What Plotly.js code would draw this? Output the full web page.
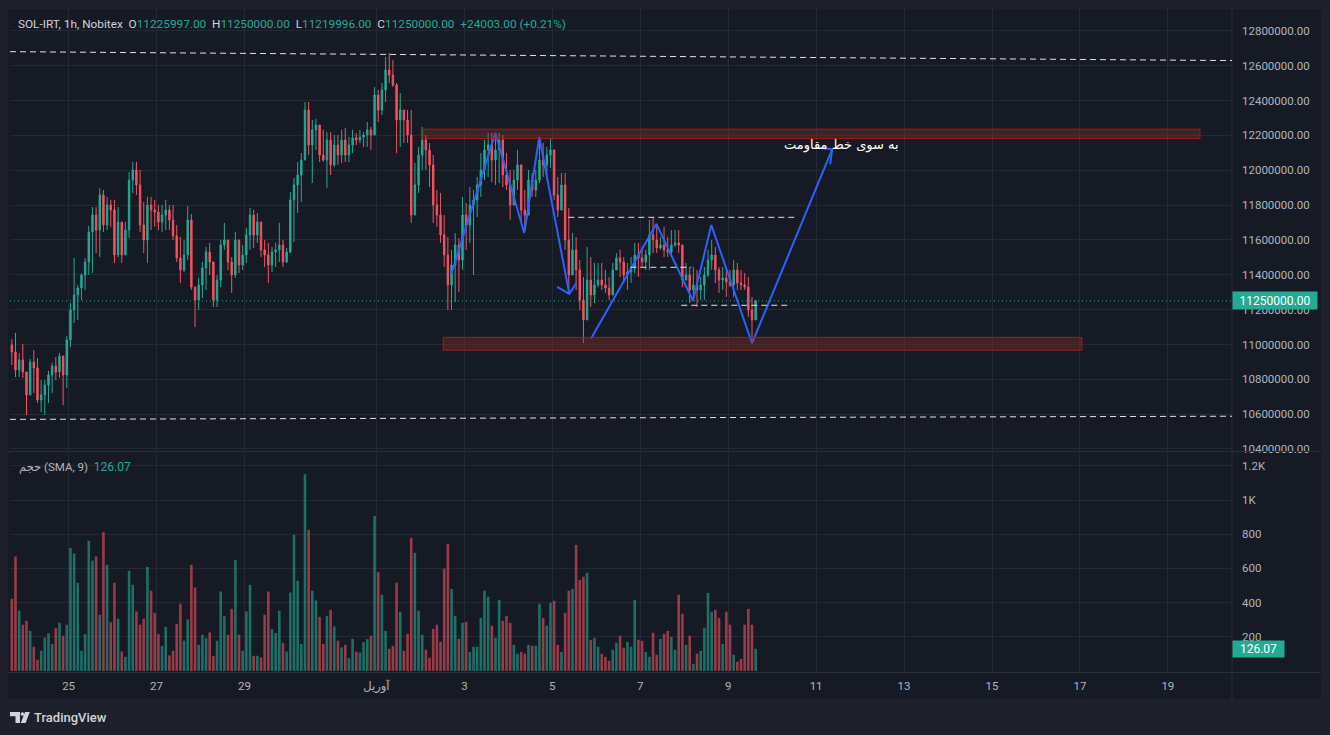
<!DOCTYPE html>
<html>
<head>
<meta charset="utf-8">
<script src="https://cdn.plot.ly/plotly-3.0.1.min.js"></script>
<style>
html,body{margin:0;padding:0;background:#1e212b;}
#chart{width:1330px;height:735px;}
</style>
</head>
<body>
<div id="chart"></div>
<script>
// ---------------- DATA (prices in thousand IRT, 2-hour bars, SOL-IRT Nobitex) ----------------
const firstBarTime = '2025-03-23 16:00';
const firstOpen = 10997;
const highs = [
 11031,11066,10951,11003,10842,10917,10968,10922,10796,10796,
 10848,10894,10928,10951,10934,11049,11238,11497,11342,11410,
 11497,11680,11789,11789,11898,11887,11847,11830,11830,11789,
 11675,11703,11990,12048,12048,12002,11818,11847,11847,11830,
 11801,11801,11830,11801,11801,11686,11617,11600,11795,11749,
 11330,11382,11474,11560,11583,11474,11399,11600,11698,11600,
 11502,11646,11571,11571,11669,11784,11772,11755,11698,11600,
 11583,11560,11583,11698,11600,11554,11876,11956,12048,12099,
 12392,12392,12289,12295,12249,12232,12220,12220,12203,12203,
 12232,12243,12191,12232,12214,12232,12220,12277,12249,12478,
 12461,12501,12651,12674,12633,12501,12444,12346,12346,12346,
 12042,12134,12249,12203,12157,12088,11887,11870,11743,11617,
 11543,11640,11611,11847,11812,11904,11887,11962,12099,12174,
 12214,12214,12214,12214,12203,12099,12002,12002,12117,11962,
 11887,12002,11985,12002,12191,12157,12134,12186,12077,11962,
 11985,11985,11784,11640,11617,11485,11387,11560,11502,11468,
 11468,11468,11428,11387,11468,11525,11543,11502,11468,11502,
 11583,11583,11560,11543,11715,11732,11675,11617,11675,11617,
 11657,11657,11657,11543,11468,11445,11445,11428,11387,11445,
 11543,11600,11560,11445,11445,11445,11428,11485,11468,11428,
 11410,11387,11273,11255
];
const lows = [
 10882,10813,10813,10808,10595,10710,10721,10664,10612,10595,
 10664,10721,10796,10808,10652,10750,10985,11123,11141,11255,
 11313,11399,11410,11525,11502,11646,11657,11675,11468,11502,
 11468,11514,11611,11870,11858,11646,11525,11468,11657,11675,
 11657,11646,11657,11657,11600,11474,11353,11416,11485,11313,
 11100,11198,11267,11313,11399,11215,11215,11330,11543,11428,
 11296,11382,11410,11428,11468,11543,11554,11583,11502,11445,
 11353,11416,11445,11474,11445,11468,11525,11588,11755,11818,
 12077,12088,11927,12117,12048,12048,11898,11973,12019,12031,
 12042,12048,12048,12099,12145,12157,12134,12134,12117,12203,
 12277,12318,12392,12501,12478,12099,12134,12157,12157,11698,
 11789,11870,12002,12002,11904,11698,11675,11583,11445,11198,
 11198,11244,11301,11428,11543,11583,11399,11732,11847,11944,
 11962,11933,11916,11927,11904,11887,11715,11830,11887,11698,
 11657,11772,11847,11847,11927,11962,11944,12013,11830,11732,
 11772,11543,11296,11502,11313,11198,11008,11215,11215,11238,
 11330,11313,11296,11255,11330,11428,11387,11353,11313,11353,
 11410,11387,11445,11428,11428,11525,11525,11543,11502,11502,
 11502,11560,11525,11330,11370,11238,11273,11215,11255,11255,
 11387,11428,11353,11296,11313,11273,11330,11273,11313,11313,
 11313,11158,11008,11181
];
const closes = [
 10957,10853,10911,10842,10710,10899,10865,10681,10710,10767,
 10825,10876,10842,10934,10825,11026,11198,11284,11324,11399,
 11474,11646,11743,11657,11858,11686,11801,11772,11514,11703,
 11514,11657,11944,12002,11916,11686,11600,11801,11772,11761,
 11703,11743,11772,11715,11623,11497,11428,11514,11715,11330,
 11255,11342,11439,11531,11474,11255,11370,11571,11600,11474,
 11399,11600,11456,11514,11629,11743,11629,11703,11543,11514,
 11456,11531,11543,11571,11474,11531,11830,11916,11973,12059,
 12346,12145,12232,12260,12088,12059,12174,12031,12145,12088,
 12174,12088,12145,12186,12174,12191,12203,12232,12203,12432,
 12346,12461,12576,12547,12490,12289,12346,12289,12203,11743,
 11916,12088,12174,12117,12031,11801,11743,11629,11514,11342,
 11456,11571,11485,11743,11686,11801,11830,11916,12002,12117,
 12145,12059,12117,12174,11973,11916,11801,11944,12031,11772,
 11743,11944,11887,11944,12059,12031,12088,12117,11858,11772,
 11916,11600,11399,11543,11428,11255,11141,11370,11284,11342,
 11370,11342,11324,11284,11428,11497,11474,11399,11416,11439,
 11514,11497,11474,11514,11629,11600,11554,11571,11543,11531,
 11571,11583,11571,11370,11399,11313,11342,11313,11342,11399,
 11485,11514,11428,11370,11382,11359,11342,11428,11353,11342,
 11330,11198,11141,11250
];
const volumes = [
 422,670,352,270,293,234,141,65,117,195,
 220,156,250,281,205,270,719,687,516,117,
 215,762,645,670,328,812,621,285,516,305,
 113,82,586,504,348,270,305,609,469,340,
 215,146,258,90,117,275,393,176,301,621,
 488,152,211,191,225,86,176,465,320,211,
 363,650,211,117,348,504,88,88,78,328,
 465,244,221,352,162,113,459,797,527,158,
 1152,826,469,412,316,158,322,357,260,176,
 137,152,74,187,113,107,168,186,205,908,
 578,445,234,129,146,516,346,117,217,779,
 691,352,211,123,76,246,270,170,598,744,
 480,322,187,281,287,111,141,141,310,469,
 434,264,193,416,293,322,281,152,100,111,
 100,152,146,146,393,310,264,398,410,152,
 111,340,469,480,738,533,551,574,180,193,
 141,100,82,59,123,164,205,135,170,141,
 416,182,176,111,82,223,94,187,217,234,
 199,123,445,334,152,205,41,100,117,252,
 457,346,357,310,158,346,270,94,53,70,
 270,363,270,129
];
const PRICE_UNIT = 1000;

// header / indicator texts
const symbolText = 'SOL-IRT, 1h, Nobitex';
const lastOpen = '11225997.00', lastHigh = '11250000.00', lastLow = '11219996.00', lastClose = '11250000.00';
const lastChange = '+24003.00 (+0.21%)';
const lastPrice = 11250000;
const volLabel = 'حجم (SMA, 9)';
const volSma = 126.07;

// x axis ticks
const xTickDates = ['2025-03-25','2025-03-27','2025-03-29','2025-04-01','2025-04-03','2025-04-05','2025-04-07','2025-04-09','2025-04-11','2025-04-13','2025-04-15','2025-04-17','2025-04-19'];
const xTickText  = ['25','27','29','آوریل','3','5','7','9','11','13','15','17','19'];
const volTickVals = [200,400,600,800,1000,1200];
const volTickText = ['200','400','600','800','1K','1.2K'];

// drawings (time, thousand IRT)
const resistZone = {t0:'2025-04-02 00:30', t1:'2025-04-19 17:30', p0:12182, p1:12236};
const supportZone = {t0:'2025-04-02 12:30', t1:'2025-04-17 01:06', p0:10967, p1:11041};
const topTrend = {t0:'2025-03-23 16:00', p0:12681, t1:'2025-04-20 11:00', p1:12630};
const bottomTrend = {t0:'2025-03-23 16:00', p0:10570, t1:'2025-04-20 11:00', p1:10588};
const dashLevels = [
  {t0:'2025-04-05 08:45', t1:'2025-04-10 13:06', p:11730},
  {t0:'2025-04-06 18:36', t1:'2025-04-08 03:50', p:11443},
  {t0:'2025-04-07 22:24', t1:'2025-04-10 08:12', p:11225}
];
const zigA_t = ['2025-04-02 16:55','2025-04-03 16:55','2025-04-04 08:42','2025-04-04 16:55','2025-04-05 09:18'];
const zigA_p = [11405,12214,11640,12191,11290];
const headA_t = ['2025-04-05 02:42','2025-04-05 09:18','2025-04-05 13:06'];
const headA_p = [11330,11290,11353];
const zigB_t = ['2025-04-05 21:06','2025-04-07 08:48','2025-04-08 04:48','2025-04-08 14:48','2025-04-09 13:00','2025-04-11 08:48'];
const zigB_p = [11033,11692,11251,11686,11007,12121];
const headB_t = ['2025-04-11 01:18','2025-04-11 08:48','2025-04-11 07:42'];
const headB_p = [12130,12121,12036];
const noteText = 'به سوی خط مقاومت';
const noteAt = {t:'2025-04-11 13:40', p:12145};

// ---------------- BUILD ----------------
const UP = '#22ab94', DN = '#f7525f';
const TXT = '#b2b5be', GRID = '#252935';
const FONT = 'Roboto, "DejaVu Sans", sans-serif';

function fmt(ms){
  const d = new Date(ms); const p = n => String(n).padStart(2,'0');
  return d.getUTCFullYear()+'-'+p(d.getUTCMonth()+1)+'-'+p(d.getUTCDate())+' '+p(d.getUTCHours())+':'+p(d.getUTCMinutes());
}
const t0ms = Date.parse(firstBarTime.replace(' ','T')+':00Z');
const times = closes.map((_,i) => fmt(t0ms + (2*i+1)*3600e3));
const opens = closes.map((c,i) => i === 0 ? firstOpen : closes[i-1]);
const hi = highs.map((h,i) => Math.max(h, opens[i], closes[i]));
const lo = lows.map((l,i) => Math.min(l, opens[i], closes[i]));
const k = v => v * PRICE_UNIT;
const volColors = closes.map((c,i) => c >= opens[i] ? 'rgba(34,171,148,0.6)' : 'rgba(247,82,95,0.6)');

const PL = 10, PR = 1232, PT = 9, PB = 672;
const px = x => (x - PL) / (PR - PL);
const py = y => (PB - y) / (PB - PT);

const traces = [
  {type:'candlestick', x:times, open:opens.map(k), high:hi.map(k), low:lo.map(k), close:closes.map(k),
   xaxis:'x', yaxis:'y', whiskerwidth:0, hoverinfo:'skip',
   increasing:{line:{color:UP,width:1}, fillcolor:UP},
   decreasing:{line:{color:DN,width:1}, fillcolor:DN}},
  {type:'bar', x:times, y:volumes, xaxis:'x', yaxis:'y2', hoverinfo:'skip',
   marker:{color:volColors, line:{width:0}}},
  {type:'scatter', mode:'lines', x:zigA_t, y:zigA_p.map(k), xaxis:'x', yaxis:'y', hoverinfo:'skip', line:{color:'#2962ff', width:2}},
  {type:'scatter', mode:'lines', x:headA_t, y:headA_p.map(k), xaxis:'x', yaxis:'y', hoverinfo:'skip', line:{color:'#2962ff', width:2}},
  {type:'scatter', mode:'lines', x:zigB_t, y:zigB_p.map(k), xaxis:'x', yaxis:'y', hoverinfo:'skip', line:{color:'#2962ff', width:2}},
  {type:'scatter', mode:'lines', x:headB_t, y:headB_p.map(k), xaxis:'x', yaxis:'y', hoverinfo:'skip', line:{color:'#2962ff', width:2}}
];

function pathPx(pts){
  return pts.map((p,i) => (i ? 'L' : 'M') + px(p[0]).toFixed(5) + ',' + py(p[1]).toFixed(5)).join(' ') + ' Z';
}

const ZONE_FILL = 'rgba(140,48,40,0.38)', ZONE_LINE = 'rgba(165,30,30,0.95)';
const shapes = [
  // chart background & frame
  {type:'rect', xref:'paper', yref:'paper', x0:px(8), x1:px(1321), y0:py(699), y1:py(9), fillcolor:'#161a25', line:{width:0}, layer:'below'},
  {type:'line', xref:'paper', yref:'paper', x0:px(8), x1:px(1321), y0:py(451.5), y1:py(451.5), line:{color:'#2a2e39', width:1}},
  {type:'line', xref:'paper', yref:'paper', x0:px(8), x1:px(1321), y0:py(672.5), y1:py(672.5), line:{color:'#2a2e39', width:1}},
  {type:'line', xref:'paper', yref:'paper', x0:1, x1:1, y0:py(699), y1:py(9), line:{color:'#2a2e39', width:1}},
  // price line
  {type:'line', xref:'paper', yref:'y', x0:0, x1:1, y0:lastPrice, y1:lastPrice, line:{color:UP, width:1, dash:'1px,3px'}},
  // zones
  {type:'rect', xref:'x', yref:'y', x0:resistZone.t0, x1:resistZone.t1, y0:k(resistZone.p0), y1:k(resistZone.p1),
   fillcolor:ZONE_FILL, line:{color:ZONE_LINE, width:1}},
  {type:'rect', xref:'x', yref:'y', x0:supportZone.t0, x1:supportZone.t1, y0:k(supportZone.p0), y1:k(supportZone.p1),
   fillcolor:ZONE_FILL, line:{color:ZONE_LINE, width:1}},
  // trend lines
  {type:'line', xref:'x', yref:'y', x0:topTrend.t0, x1:topTrend.t1, y0:k(topTrend.p0), y1:k(topTrend.p1), line:{color:'#e0e3eb', width:1, dash:'6px,4px'}},
  {type:'line', xref:'x', yref:'y', x0:bottomTrend.t0, x1:bottomTrend.t1, y0:k(bottomTrend.p0), y1:k(bottomTrend.p1), line:{color:'#e0e3eb', width:1, dash:'6px,4px'}},
  // TradingView logo
  {type:'path', xref:'paper', yref:'paper', path:pathPx([[10,712],[20,712],[20,723],[15.5,723],[15.5,716.3],[10,716.3]]), fillcolor:'#d1d4dc', line:{width:0}},
  {type:'circle', xref:'paper', yref:'paper', x0:px(20.6), x1:px(24.2), y0:py(715.9), y1:py(712.3), fillcolor:'#d1d4dc', line:{width:0}},
  {type:'path', xref:'paper', yref:'paper', path:pathPx([[25,712],[29.8,712],[25.6,723],[20.8,723]]), fillcolor:'#d1d4dc', line:{width:0}}
];
dashLevels.forEach(d => shapes.push({type:'line', xref:'x', yref:'y', x0:d.t0, x1:d.t1, y0:k(d.p), y1:k(d.p), line:{color:'#e0e3eb', width:1, dash:'6px,4px'}}));

const teal = s => '<span style="color:'+UP+'">'+s+'</span>';
const sp = '\u00a0\u00a0';
const annotations = [
  {xref:'paper', yref:'paper', x:px(16), y:py(24), xanchor:'left', yanchor:'middle', showarrow:false,
   font:{family:FONT, size:11.8, color:'#d1d4dc'},
   text: symbolText + sp + 'O' + teal(lastOpen) + sp + 'H' + teal(lastHigh) + sp + 'L' + teal(lastLow) + sp + 'C' + teal(lastClose) + sp + teal(lastChange)},
  {xref:'paper', yref:'paper', x:px(17), y:py(467), xanchor:'left', yanchor:'middle', showarrow:false,
   font:{family:FONT, size:11.5, color:TXT}, text: volLabel + sp + '<span style="color:'+UP+';font-size:12px">'+volSma.toFixed(2)+'</span>'},
  {xref:'paper', yref:'y', x:1, y:lastPrice, xanchor:'left', yanchor:'middle', showarrow:false,
   text:(lastPrice).toFixed(2), font:{family:FONT, size:12, color:'#ffffff'}, bgcolor:UP, borderpad:2, width:80, height:13},
  {xref:'paper', yref:'y2', x:1, y:volSma, xanchor:'left', yanchor:'middle', showarrow:false,
   text:volSma.toFixed(2), font:{family:FONT, size:12, color:'#ffffff'}, bgcolor:UP, borderpad:2, width:47, height:12},
  {xref:'x', yref:'y', x:noteAt.t, y:k(noteAt.p), xanchor:'center', yanchor:'middle', showarrow:false,
   text:noteText, font:{family:'"DejaVu Sans", sans-serif', size:13, color:'#ffffff'}},
  {xref:'paper', yref:'paper', x:px(32), y:py(717), xanchor:'left', yanchor:'middle', showarrow:false,
   text:'TradingView', font:{family:FONT, size:13, color:'#d1d4dc', weight:500}}
];

const layout = {
  width:1330, height:735,
  margin:{l:PL, r:1330-PR, t:PT, b:735-PB, pad:0},
  paper_bgcolor:'#1e212b', plot_bgcolor:'rgba(0,0,0,0)',
  showlegend:false, hovermode:false, dragmode:false,
  bargap:0.3, boxgap:0.45,
  font:{family:FONT, color:TXT, size:11.5},
  xaxis:{type:'date', range:['2025-03-23 16:00','2025-04-20 11:00'], anchor:'y2', domain:[0,1],
    tickmode:'array', tickvals:xTickDates, ticktext:xTickText, showgrid:true, gridcolor:GRID, gridwidth:1,
    zeroline:false, showline:false, ticks:'', ticklabelstandoff:5, tickfont:{family:FONT, size:11.5, color:TXT},
    rangeslider:{visible:false}, fixedrange:true},
  yaxis:{domain:[py(451.5),1], range:[10385500,12926000], side:'right', anchor:'x',
    tickformat:'.2f', tick0:0, dtick:200000, showgrid:true, gridcolor:GRID, gridwidth:1,
    zeroline:false, showline:false, ticks:'', ticklabelstandoff:9, tickfont:{family:FONT, size:11.5, color:TXT}, fixedrange:true},
  yaxis2:{domain:[0,py(452.5)], range:[-7,1279], side:'right', anchor:'x',
    tickmode:'array', tickvals:volTickVals, ticktext:volTickText, showgrid:true, gridcolor:GRID, gridwidth:1,
    zeroline:false, showline:false, ticks:'', ticklabelstandoff:9, tickfont:{family:FONT, size:11.5, color:TXT}, fixedrange:true},
  shapes:shapes,
  annotations:annotations
};

Plotly.newPlot('chart', traces, layout, {displayModeBar:false, staticPlot:true});
</script>
</body>
</html>
